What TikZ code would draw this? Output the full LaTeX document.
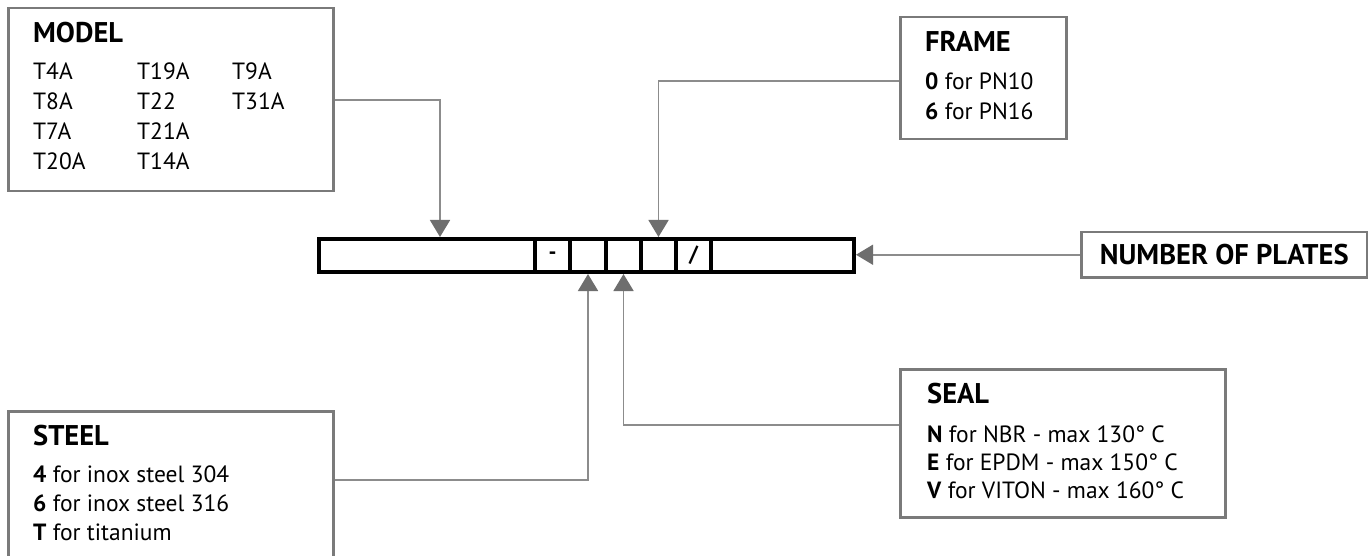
\documentclass[tikz,border=0pt]{standalone}
\usepackage{fontspec}
\setmainfont{PT Sans}
\usetikzlibrary{positioning,calc,arrows.meta}
\definecolor{plateBoxLine}{HTML}{7A7A7A}
\definecolor{plateLink}{HTML}{8C8C8C}
\definecolor{plateTip}{HTML}{6E6E6E}
\tikzset{
  infobox/.style={draw=plateBoxLine, line width=2.5pt, fill=white,
    anchor=north west, inner sep=0pt},
  codecell/.style={draw=black, line width=4pt, inner sep=0pt,
    minimum height=33pt, font=\fontsize{22}{22}\selectfont\bfseries},
  link/.style={draw=plateLink, line width=1.6pt,
    -{Triangle[width=20pt,length=17pt,color=plateTip]}},
  boxtitle/.style={anchor=base west, inner sep=0pt,
    font=\fontsize{28.5}{30}\selectfont\bfseries},
  boxline/.style={anchor=base west, inner sep=0pt,
    font=\fontsize{23.5}{25}\selectfont},
}

\begin{document}
\begin{tikzpicture}[x=1pt,y=-1pt]
\clip (0,0) rectangle (1368,556);
\fill[white] (0,0) rectangle (1368,556);

%% info boxes
\node[infobox, minimum width=325pt, minimum height=183pt] (model) at (7,7) {};
\node[infobox, minimum width=166pt, minimum height=122pt] (frame) at (899,16) {};
\node[infobox, minimum width=325pt, minimum height=170pt] (steel) at (7,410) {};
\node[infobox, minimum width=325pt, minimum height=148pt] (seal) at (899,368) {};
\node[infobox, minimum width=286pt, minimum height=45pt,
      font=\fontsize{28.5}{30}\selectfont\bfseries]
  (plates) at (1080,231) {NUMBER OF PLATES};

%% code strip
\foreach [count=\i] \lft/\rgt/\sym in {%
  319/535/{},%
  535/570/-,%
  570/606/{},%
  606/641/{},%
  641/676/{},%
  676/711/\slash,%
  711/854/{}%
} {
  \pgfmathsetmacro\cx{(\lft + \rgt) / 2}
  \pgfmathsetmacro\cw{\rgt - \lft}
  \node[codecell, minimum width=\cw pt] (c\i) at (\cx, 255.5) {\sym};
}

%% MODEL
\node[boxtitle] (modelT) at (33,43) {MODEL};
\foreach [count=\r] \a/\b/\c in {T4A/T19A/T9A, T8A/T22/T31A, T7A/T21A/{}, T20A/T14A/{}} {
  \pgfmathsetmacro\ry{50 + 30 * \r}
  \node[boxline] (modelA\r) at (33, \ry) {\a};
  \node[boxline] (modelB\r) at (137, \ry) {\b};
  \node[boxline] (modelC\r) at (232, \ry) {\c};
}

%% FRAME
\node[boxtitle] (frameT) at (925,52) {FRAME};
\node[boxline] (frame1) at (925,90) {\textbf{0} for PN10};
\node[boxline] (frame2) at (925,120) {\textbf{6} for PN16};

%% STEEL
\node[boxtitle] (steelT) at (33,445) {STEEL};
\node[boxline] (steel1) at (33,482) {\textbf{4} for inox steel 304};
\node[boxline] (steel2) at (33,511) {\textbf{6} for inox steel 316};
\node[boxline] (steel3) at (33,540) {\textbf{T} for titanium};

%% SEAL
\node[boxtitle] (sealT) at (927,403) {SEAL};
\node[boxline] (seal1) at (927,442) {\textbf{N} for NBR - max 130° C};
\node[boxline] (seal2) at (927,470) {\textbf{E} for EPDM - max 150° C};
\node[boxline] (seal3) at (927,498) {\textbf{V} for VITON - max 160° C};

%% connectors
\draw[link] (model.east) -| ($(c1.north) + (13,0)$);
\draw[link] ($(frame.west) + (0,3)$) -| (c5.north);
\draw[link] ($(steel.north east) + (0,70)$) -| (c3.south);
\draw[link] ($(seal.north west) + (0,57)$) -| (c4.south);
\draw[link] (plates.west) -- (plates.west -| c7.east);

\end{tikzpicture}
\end{document}
